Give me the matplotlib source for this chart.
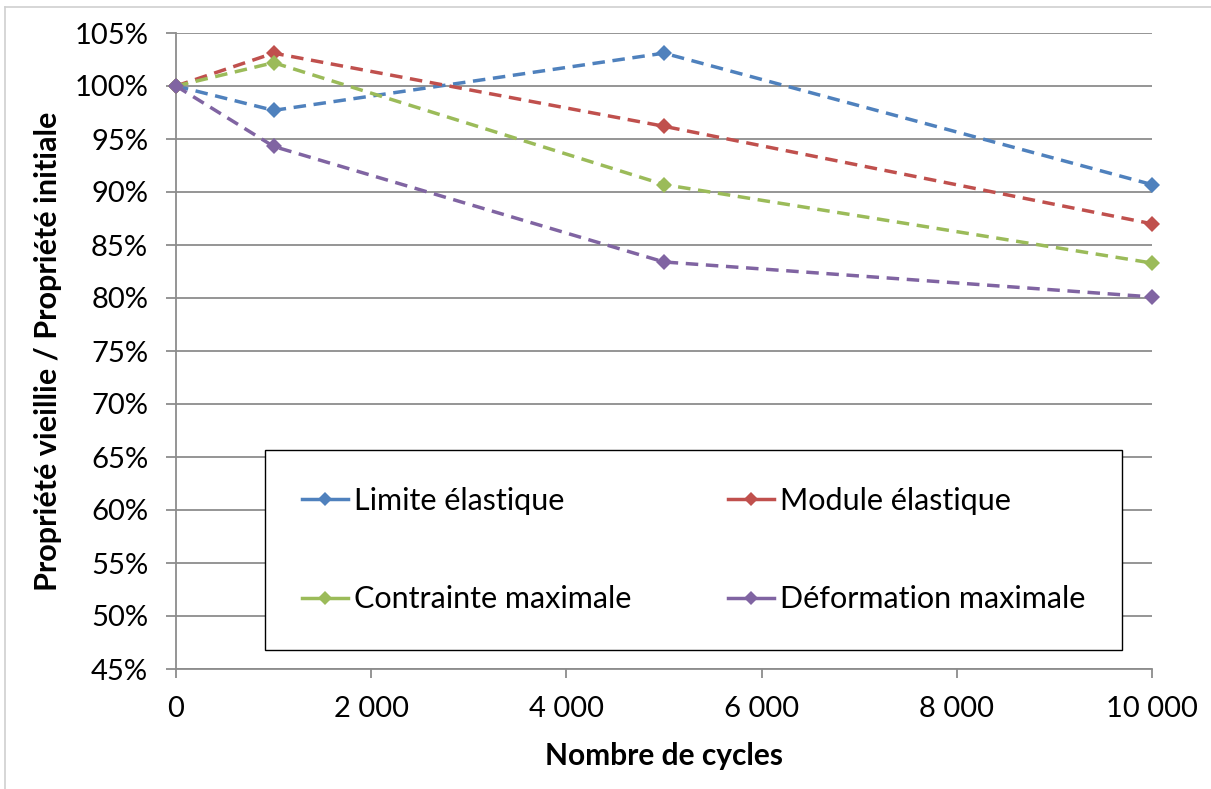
import matplotlib
matplotlib.use("Agg")
import matplotlib.pyplot as plt
from matplotlib.ticker import FuncFormatter, MultipleLocator
from matplotlib.lines import Line2D

cycles = [0, 1000, 5000, 10000]
limite = [100, 97.7, 103.1, 90.7]
module = [100, 103.1, 96.2, 87.0]
contrainte = [100, 102.2, 90.7, 83.3]
deformation = [100, 94.3, 83.4, 80.1]

labels = ["Limite élastique", "Module élastique", "Contrainte maximale", "Déformation maximale"]
colors = ["#4F81BD", "#C0504D", "#9BBB59", "#8064A2"]
series = [limite, module, contrainte, deformation]

plt.rcParams['font.family'] = ['Lato', 'DejaVu Sans']

fig = plt.figure(figsize=(12.11, 7.89), dpi=100)
ax = fig.add_axes([176/1211, 1-669/789, (1152-176)/1211, (669-33)/789])

handles = []
for vals, c, lab in zip(series, colors, labels):
    ax.plot(cycles, vals, color=c, lw=2.5, dashes=(3.6, 2.2),
            marker='D', markersize=8.5, markeredgewidth=0, label=lab,
            clip_on=False, zorder=3)
    handles.append(Line2D([0], [0], color=c, lw=2.5, marker='D', markersize=7, markeredgewidth=0))

ax.set_xlim(0, 10000)
ax.set_ylim(45, 105)
ax.yaxis.set_major_locator(MultipleLocator(5))
ax.xaxis.set_major_locator(MultipleLocator(2000))
ax.yaxis.set_major_formatter(FuncFormatter(lambda v, p: f"{int(round(v))}%"))
ax.xaxis.set_major_formatter(FuncFormatter(lambda v, p: f"{int(v):,}".replace(",", " ")))

ax.grid(axis='y', color='#8C8C8C', lw=1.3)
ax.set_axisbelow(True)
for s in ['top', 'right', 'bottom']:
    ax.spines[s].set_visible(False)
ax.spines['left'].set_color('#8C8C8C')
ax.spines['left'].set_linewidth(1.3)
ax.tick_params(axis='y', direction='out', length=7, width=1.3, color='#8C8C8C',
               labelsize=21, pad=13)
ax.tick_params(axis='x', direction='out', length=6.5, width=1.3, color='#8C8C8C',
               labelsize=21, pad=13)
ax.axhline(45, color='#8C8C8C', lw=1.3, clip_on=False, zorder=1)

ax.set_xlabel("Nombre de cycles", fontsize=21.5, fontweight='bold', labelpad=14)
ax.set_ylabel("Propriété vieillie / Propriété initiale", fontsize=22, fontweight='bold', labelpad=9)

leg = ax.legend(handles=[handles[0], handles[2], handles[1], handles[3]],
                labels=[labels[0], labels[2], labels[1], labels[3]],
                loc='lower left', bbox_to_anchor=(0.0912, 0.0299, 0.878, 0.314),
                mode='expand', ncol=2, fancybox=False, edgecolor='black',
                framealpha=1, fontsize=22, labelspacing=2.3, handlelength=1.5,
                handletextpad=0.2, borderpad=1.2, borderaxespad=0)
leg.get_frame().set_linewidth(1.0)

# outer chart frame
fig.add_artist(Line2D([5/1211, 5/1211], [0, 1-7/789], color='#D0D0D0', lw=1.2, transform=fig.transFigure))
fig.add_artist(Line2D([5/1211, 1], [1-7/789, 1-7/789], color='#D0D0D0', lw=1.2, transform=fig.transFigure))

fig.savefig("out.png", dpi=100)
